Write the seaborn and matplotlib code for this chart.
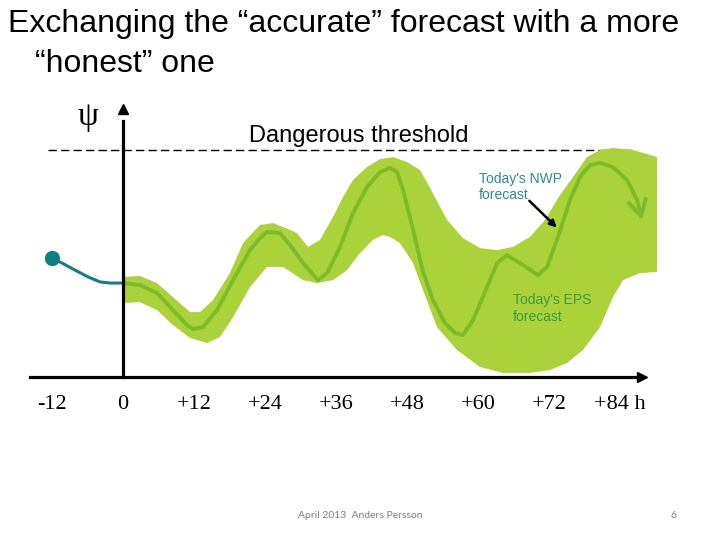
import numpy as np
import matplotlib
matplotlib.use("Agg")
import matplotlib.pyplot as plt
import seaborn as sns

# forecast lead times (hours) for the axis labels
tick_hours = [-12, 0, 12, 24, 36, 48, 60, 72, 84]
tick_labels = ["-12", "0", "+12", "+24", "+36", "+48", "+60", "+72", "+84 h"]

# past observations leading up to t=0
obs_hours = [-12.0, -10.3, -8.1, -5.9, -3.9, -2.2, 0.0]
obs_psi = [5.24, 5.02, 4.71, 4.41, 4.19, 4.14, 4.14]

# today's deterministic NWP forecast
nwp_hours = [0.00, 2.87, 5.74, 8.45, 10.81, 11.82, 13.51, 15.88, 18.58, 21.45,
             23.14, 24.32, 26.52, 28.21, 30.41, 32.94, 34.46, 36.66, 38.85, 41.22,
             43.41, 45.10, 46.28, 47.30, 48.99, 50.68, 52.36, 54.39, 56.08, 57.43,
             59.12, 61.49, 63.18, 64.86, 67.06, 70.10, 71.62, 73.31, 75.51, 77.20,
             78.89, 80.57, 82.77, 85.14, 86.82, 87.67]
nwp_psi = [4.14, 4.05, 3.70, 2.95, 2.29, 2.11, 2.20, 2.95, 4.27, 5.59,
           6.12, 6.39, 6.34, 5.81, 5.02, 4.27, 4.58, 5.73, 7.22, 8.37,
           9.03, 9.21, 9.03, 8.24, 6.48, 4.63, 3.39, 2.38, 1.94, 1.85,
           2.51, 3.96, 5.02, 5.37, 5.02, 4.49, 4.85, 6.04, 7.80, 8.81,
           9.34, 9.43, 9.25, 8.68, 7.80, 6.92]

# EPS spread, upper and lower envelope
eps_hi_hours = [0.00, 2.87, 5.74, 8.45, 11.32, 13.01, 15.20, 18.07, 20.27, 23.14,
                25.34, 28.21, 29.39, 31.25, 33.28, 35.47, 37.16, 38.85, 41.22, 43.41,
                45.61, 47.97, 50.17, 51.86, 54.73, 57.43, 60.30, 63.18, 65.88, 68.75,
                71.28, 73.82, 76.01, 78.38, 80.57, 82.77, 86.15, 90.20]
eps_hi_psi = [4.41, 4.45, 4.14, 3.52, 2.86, 2.86, 3.39, 4.58, 5.90, 6.70,
              6.78, 6.48, 6.34, 5.73, 6.04, 7.05, 7.93, 8.68, 9.25, 9.60,
              9.69, 9.47, 9.12, 8.33, 6.92, 6.12, 5.68, 5.59, 5.73, 6.17,
              6.92, 8.02, 8.81, 9.69, 10.00, 10.09, 10.00, 9.69]
eps_lo_hours = [0.00, 2.87, 5.74, 8.45, 11.32, 14.19, 16.39, 18.58, 21.45, 24.32,
                27.03, 30.41, 32.77, 35.47, 37.84, 40.03, 42.23, 43.92, 45.10, 46.79,
                48.99, 50.68, 53.04, 56.42, 60.30, 64.19, 68.75, 72.13, 75.00, 77.70,
                80.57, 82.77, 84.46, 87.33, 90.20]
eps_lo_psi = [3.26, 3.30, 2.95, 2.29, 1.72, 1.50, 1.76, 2.64, 3.96, 4.85,
              4.85, 4.27, 4.14, 4.27, 4.71, 5.46, 6.04, 6.26, 6.17, 5.90,
              5.02, 3.83, 2.20, 1.19, 0.44, 0.18, 0.18, 0.31, 0.62, 1.19,
              2.20, 3.52, 4.27, 4.58, 4.63]

threshold = 10.0

band_color = "#abd23a"
line_color = "#7cba28"
teal = "#128080"

sns.set_theme(style="white")
plt.rcParams["font.family"] = ["Liberation Sans", "DejaVu Sans"]
plt.rcParams["text.color"] = "black"
plt.rcParams["xtick.color"] = "black"

fig = plt.figure(figsize=(7.2, 5.4), dpi=100)
ax = fig.add_axes([0, 0, 1, 1])
ax.set_xlim(-20.78, 100.84)
ax.set_ylim(-7.18, 16.61)

# ensemble spread as a closed polygon
band_x = eps_hi_hours + eps_lo_hours[::-1]
band_y = eps_hi_psi + eps_lo_psi[::-1]
ax.fill(band_x, band_y, color=band_color, lw=0, zorder=2)

# deterministic forecast with open arrow at the end
sns.lineplot(x=nwp_hours[:-1], y=nwp_psi[:-1], ax=ax, color=line_color, lw=2.8,
             sort=False, zorder=3, solid_joinstyle="round", solid_capstyle="round")
ax.annotate("", xy=(nwp_hours[-1], nwp_psi[-1]), xytext=(nwp_hours[-2], nwp_psi[-2]),
            arrowprops=dict(arrowstyle="->, head_length=0.45, head_width=0.25",
                            color=line_color, lw=2.8, mutation_scale=25,
                            shrinkA=0, shrinkB=0),
            zorder=3)

# observed history
sns.lineplot(x=obs_hours, y=obs_psi, ax=ax, color=teal, lw=2.2, sort=False, zorder=3)
ax.plot(obs_hours[0], obs_psi[0], "o", color=teal, ms=10, zorder=4)

# danger threshold
ax.hlines(threshold, -12.7, 86.0, colors="black", lw=1.0,
          linestyles=(0, (6, 3)), zorder=1)
ax.text(39.9, threshold + 0.12, "Dangerous threshold", fontsize=17,
        ha="center", va="bottom", color="black")

# axes with arrows
for side in ["top", "right"]:
    ax.spines[side].set_visible(False)
ax.spines["bottom"].set_position(("data", 0))
ax.spines["left"].set_position(("data", 0))
ax.spines["bottom"].set_bounds(-15.7, 86.5)
ax.spines["left"].set_bounds(0, 11.3)
for side in ["bottom", "left"]:
    ax.spines[side].set_linewidth(2.3)
    ax.spines[side].set_color("black")
    ax.spines[side].set_zorder(5)
ax.plot(87.6, 0, ">", color="black", ms=7, clip_on=False, zorder=5)
ax.plot(0, 11.8, "^", color="black", ms=7, clip_on=False, zorder=5)

ax.set_xticks(tick_hours)
ax.set_xticklabels(tick_labels, fontsize=16, family=["Liberation Serif", "DejaVu Serif"])
ax.tick_params(axis="x", length=0, pad=13)
ax.set_yticks([])

ax.text(-5.9, 11.45, "ψ", fontsize=24, ha="center", va="center",
        family=["Liberation Serif", "DejaVu Serif"])

# annotations
ax.text(60.1, 9.05, "Today's NWP\nforecast", fontsize=10, color="#2a8c8c",
        ha="left", va="top", linespacing=1.2)
ax.annotate("", xy=(73.6, 6.5), xytext=(68.3, 7.85),
            arrowprops=dict(arrowstyle="-|>", color="black", lw=1.8, mutation_scale=10))
ax.text(65.8, 3.68, "Today's EPS\nforecast", fontsize=10, color="#3a9a3e",
        ha="left", va="top", linespacing=1.2)

# slide title and footer
fig.text(0.011, 0.956, "Exchanging the \u201caccurate\u201d forecast with a more",
         fontsize=23, ha="left", va="center")
fig.text(0.049, 0.882, "\u201chonest\u201d one", fontsize=23, ha="left", va="center")
fig.text(0.5, 0.046, "April 2013  Anders Persson", fontsize=7.5, color="#7f7f7f",
         ha="center", va="center", family=["Lato", "DejaVu Sans"])
fig.text(0.935, 0.046, "6", fontsize=7.5, color="#7f7f7f",
         ha="center", va="center", family=["Lato", "DejaVu Sans"])

fig.savefig("out.png", dpi=100)
